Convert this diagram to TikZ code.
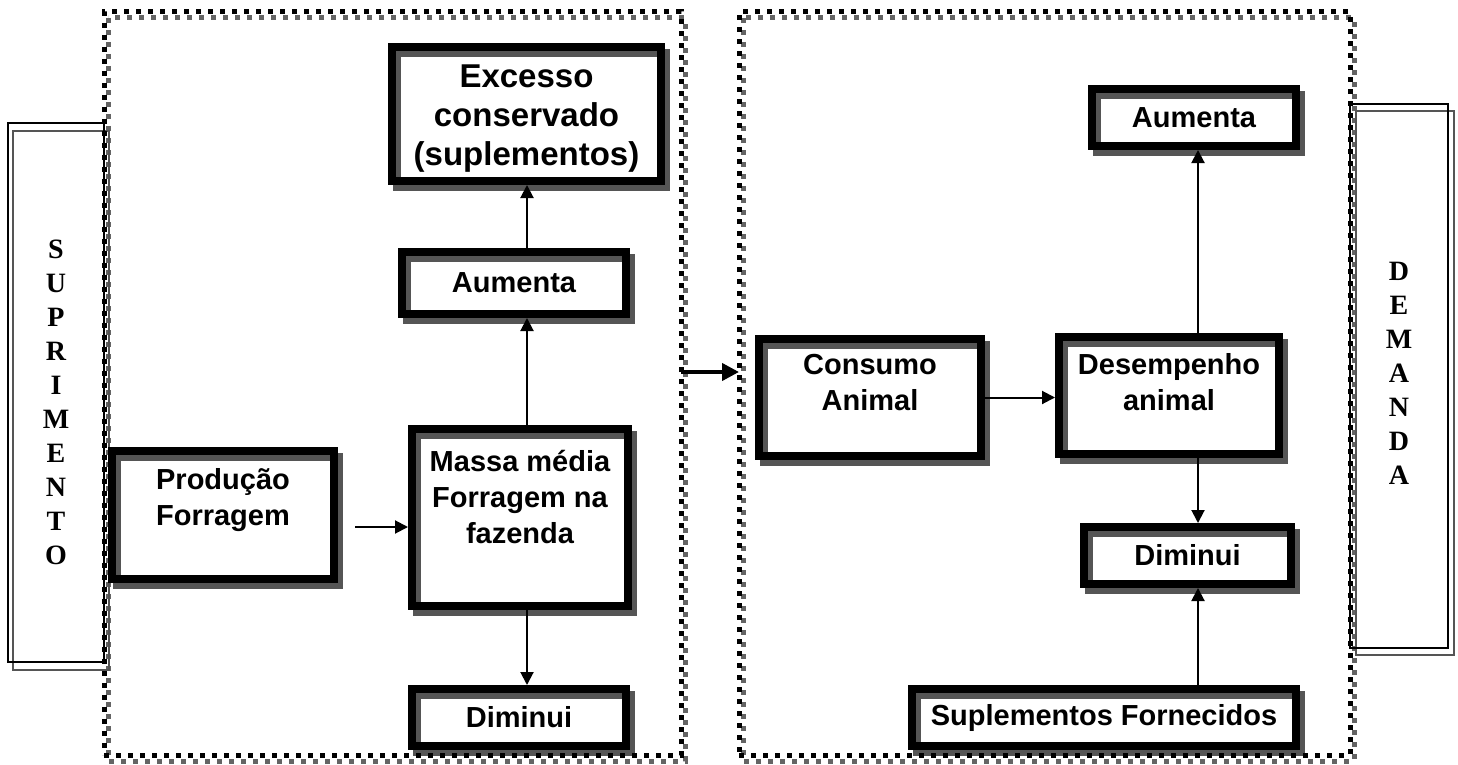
\documentclass[tikz,border=0pt]{standalone}
\usepackage{fontspec}
\newfontfamily\boxfont{Liberation Sans}
\newfontfamily\sidefont{Liberation Serif}
\usetikzlibrary{arrows.meta,calc}
\pgfdeclarelayer{background}
\pgfsetlayers{background,main}
\definecolor{shade}{RGB}{85,85,85}
\definecolor{dotshade}{RGB}{100,100,100}
\newcommand{\bt}[2]{\raisebox{#1}[\height][\depth]{\begin{tabular}{@{}c@{}}#2\end{tabular}}}
\begin{document}
\begin{tikzpicture}[x=1pt,y=-1pt,
  sbox/.style={draw, line width=8pt, inner sep=0pt, font=\boxfont\bfseries\fontsize{29}{36}\selectfont},
  sshade/.style={draw=shade, line width=8pt},
  panel/.style={draw, line width=5pt, dash pattern=on 5pt off 7pt, inner sep=0pt, outer sep=0pt},
  panelshade/.style={draw=dotshade, line width=5pt, dash pattern=on 5pt off 7pt},
  sidebox/.style={draw, line width=1.5pt, inner sep=0pt, outer sep=0pt, font=\sidefont\bfseries\fontsize{28}{34}\selectfont},
  sideshade/.style={draw=shade, line width=1.5pt},
  arr/.style={-{Triangle[length=13pt,width=13pt]}, line width=2pt},
  bigarr/.style={-{Triangle[length=17pt,width=17pt]}, line width=4pt}]
\useasboundingbox (0,0) rectangle (1458,765);

% side boxes
\node[sidebox, minimum width=96pt, minimum height=539pt] (supr) at (56,392.5)
  {\bt{-12pt}{S\\U\\P\\R\\I\\M\\E\\N\\T\\O}};
\node[sidebox, minimum width=98pt, minimum height=544pt] (dem) at (1399,376)
  {\bt{0pt}{D\\E\\M\\A\\N\\D\\A}};

% panels
\node[panel, minimum width=577pt, minimum height=743pt] (panL) at (392.5,383.5) {};
\node[panel, minimum width=611pt, minimum height=743pt] (panR) at (1044.5,383.5) {};

% boxes
\node[sbox, minimum width=269pt, minimum height=134pt,
      font=\boxfont\bfseries\fontsize{33}{39}\selectfont] (exc) at (526.5,114)
  {\bt{-5pt}{Excesso\\conservado\\(suplementos)}};
\node[sbox, minimum width=224pt, minimum height=62pt] (aumL) at (514,283) {Aumenta};
\node[sbox, minimum width=216pt, minimum height=177pt] (massa) at (520,517.5)
  {\bt{17pt}{Massa média\\Forragem na\\fazenda}};
\node[sbox, minimum width=214pt, minimum height=57pt] (dimL) at (519,717.5) {Diminui};
\node[sbox, minimum width=222pt, minimum height=128pt] (prod) at (223,515)
  {\bt{15pt}{Produção\\Forragem}};
\node[sbox, minimum width=222pt, minimum height=117pt] (cons) at (870,397.5)
  {\bt{12pt}{Consumo\\Animal}};
\node[sbox, minimum width=220pt, minimum height=117pt] (des) at (1169,395.5)
  {\bt{10pt}{Desempenho\\animal}};
\node[sbox, minimum width=204pt, minimum height=57pt] (aumR) at (1194,117.5) {Aumenta};
\node[sbox, minimum width=207pt, minimum height=57pt] (dimR) at (1187.5,555.5) {Diminui};
\node[sbox, minimum width=384pt, minimum height=57pt] (sup) at (1104,717.5) {Suplementos Fornecidos};

% shadows
\begin{pgfonlayer}{background}
  \foreach \b in {exc,aumL,massa,dimL,prod,cons,des,aumR,dimR,sup}{
    \draw[sshade] ($(\b.north west)+(9,10)$) rectangle ($(\b.south east)+(1,2)$);
  }
  \draw[panelshade] ($(panL.north west)+(4,6)$) rectangle ($(panL.south east)+(4,6)$);
  \draw[panelshade] ($(panR.north west)+(4,6)$) rectangle ($(panR.south east)+(4,6)$);
  \draw[sideshade] ($(supr.north west)+(5,8)$) rectangle ($(supr.south east)+(5,8)$);
  \draw[sideshade] ($(dem.north west)+(6,7)$) rectangle ($(dem.south east)+(6,7)$);
\end{pgfonlayer}

% connectors
\coordinate (lx) at (527,0);
\coordinate (rx) at (1198,0);
\coordinate (py) at (0,527);
\coordinate (by) at (0,372);
\draw[arr] ($(prod.east |- py)+(17,0)$) -- (massa.west |- py);
\draw[arr] (massa.north -| lx) -- (aumL.south -| lx);
\draw[arr] (aumL.north -| lx) -- (exc.south -| lx);
\draw[arr] (massa.south -| lx) -- (dimL.north -| lx);
\draw[bigarr] (panL.east |- by) -- (panR.west |- by);
\draw[arr] (cons.east) -- (des.west |- cons.east);
\draw[arr] (des.north -| rx) -- (aumR.south -| rx);
\draw[arr] (des.south -| rx) -- (dimR.north -| rx);
\draw[arr] (sup.north -| rx) -- (dimR.south -| rx);
\end{tikzpicture}
\end{document}
